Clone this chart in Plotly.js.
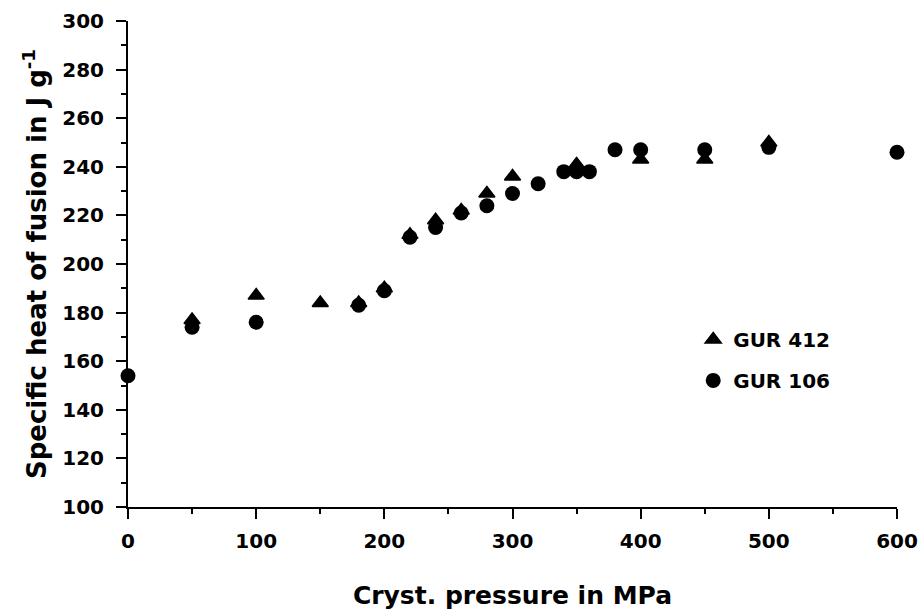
<!DOCTYPE html>
<html>
<head>
<meta charset="utf-8">
<script src="https://cdn.plot.ly/plotly-3.0.1.min.js"></script>
<style>
  html, body { margin: 0; padding: 0; background: #fff; }
  #chart { width: 920px; height: 615px; }
</style>
</head>
<body>
<div id="chart"></div>
<script>
// Specific heat of fusion vs. crystallisation pressure, two UHMW-PE grades
const gur412Pressure = [50, 100, 150, 180, 200, 220, 240, 260, 280, 300, 350, 400, 450, 500];
const gur412Heat     = [177, 187, 184, 184, 190, 212, 218, 222, 229, 236, 241, 243, 243, 250];

const gur106Pressure = [0, 50, 100, 180, 200, 220, 240, 260, 280, 300, 320, 340, 350, 360, 380, 400, 450, 500, 600];
const gur106Heat     = [154, 174, 176, 183, 189, 211, 215, 221, 224, 229, 233, 238, 238, 238, 247, 247, 247, 248, 246];

const seriesNames = ['GUR 412', 'GUR 106'];
const xTickValues = [0, 100, 200, 300, 400, 500, 600];
const yTickValues = [100, 120, 140, 160, 180, 200, 220, 240, 260, 280, 300];

const FONT = 'DejaVu Sans, Verdana, sans-serif';

const traces = [
  {
    x: gur412Pressure, y: gur412Heat, name: seriesNames[0],
    type: 'scatter', mode: 'markers', legendgroup: 'a',
    marker: { symbol: 'triangle-up', size: 14, color: '#000', line: { color: '#000', width: 1.5 } },
    cliponaxis: false
  },
  {
    x: gur106Pressure, y: gur106Heat, name: seriesNames[1],
    type: 'scatter', mode: 'markers', legendgroup: 'b',
    marker: { symbol: 'circle', size: 15, color: '#000' },
    cliponaxis: false
  }
];

const axisCommon = {
  showgrid: false, zeroline: false,
  showline: true, linecolor: '#000', linewidth: 2,
  ticks: 'outside', ticklen: 10, tickwidth: 2, tickcolor: '#000',
  tickfont: { family: FONT, size: 20, color: '#000', weight: 'bold' }
};

const layout = {
  width: 920, height: 615,
  paper_bgcolor: '#fff', plot_bgcolor: '#fff',
  margin: { l: 128, r: 23, t: 21, b: 108 },
  font: { family: FONT, color: '#000' },
  xaxis: Object.assign({}, axisCommon, {
    range: [0, 600], tickvals: xTickValues,
    ticklabelstandoff: 5,
    minor: { dtick: 50, tick0: 0, ticks: 'outside', ticklen: 5, tickwidth: 2, tickcolor: '#000' },
    title: {
      text: 'Cryst. pressure in MPa',
      font: { family: FONT, size: 25, color: '#000', weight: 'bold' },
      standoff: 34
    }
  }),
  yaxis: Object.assign({}, axisCommon, {
    range: [100, 300], tickvals: yTickValues,
    ticklabelstandoff: 8,
    minor: { dtick: 10, tick0: 100, ticks: 'outside', ticklen: 5, tickwidth: 2, tickcolor: '#000' },
    title: {
      text: 'Specific heat of fusion in J g<sup>-1</sup>',
      font: { family: FONT, size: 26, color: '#000', weight: 'bold' },
      standoff: 8
    }
  }),
  legend: {
    x: 0.735, y: 0.385, xanchor: 'left', yanchor: 'top',
    bgcolor: 'rgba(0,0,0,0)', borderwidth: 0,
    traceorder: 'grouped', tracegroupgap: 12,
    font: { family: FONT, size: 20, color: '#000', weight: 'bold' }
  }
};

Plotly.newPlot('chart', traces, layout, { displayModeBar: false, staticPlot: true });
</script>
</body>
</html>
